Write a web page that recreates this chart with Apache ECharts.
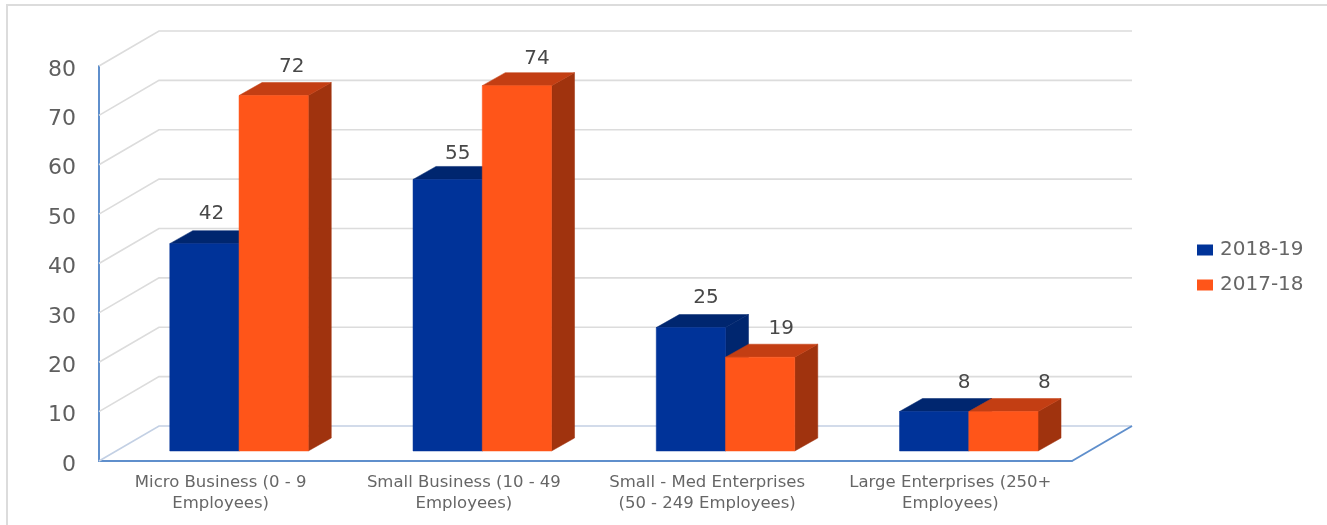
<!DOCTYPE html>
<html><head><meta charset="utf-8">
<style>html,body{margin:0;padding:0;background:#fff}#c{width:1327px;height:525px}</style>
<script src="https://cdn.jsdelivr.net/npm/echarts@6/dist/echarts.min.js"></script>
</head><body><div id="c"></div>
<script>
var categories = ['Micro Business (0 - 9\nEmployees)','Small Business (10 - 49\nEmployees)','Small - Med Enterprises\n(50 - 249 Employees)','Large Enterprises (250+\nEmployees)'];
var values2018 = [42,55,25,8];
var values2017 = [72,74,19,8];
var yTicks = [0,10,20,30,40,50,60,70,80];
var nudge2018 = [[7,0],[10,4],[15,0],[30,1]];
var nudge2017 = [[18,1],[20,3],[21,2],[41,1]];
var WALL = [60,-35], BARDEPTH = [23,-13], BAROFF = [18.4,-10], BARW = 0.2847;
var FONT = 'DejaVu Sans';

function poly(points, fill){
  return {type:'polygon', shape:{points:points}, style:{fill:fill, stroke:fill, lineWidth:0.5}};
}
function barRender(side, front, topc, sidec, nudges){
  return function(params, api){
    var i = api.value(0), v = api.value(1);
    var c = api.coord([i,v]), b = api.coord([i,0]);
    var w = api.size([1,0])[0]*BARW;
    var x0 = c[0]+BAROFF[0]+(side===0?-w:0), x1 = x0+w;
    var yt = c[1]+BAROFF[1], yb = b[1]+BAROFF[1];
    var dx = BARDEPTH[0], dy = BARDEPTH[1];
    return {type:'group', children:[
      poly([[x1,yb],[x1+dx,yb+dy],[x1+dx,yt+dy],[x1,yt]], sidec),
      poly([[x0,yt],[x1,yt],[x1+dx,yt+dy],[x0+dx,yt+dy]], topc),
      poly([[x0,yt],[x1,yt],[x1,yb],[x0,yb]], front),
      {type:'text', style:{text:String(v), x:(x0+x1)/2+nudges[i][0], y:yt-30+nudges[i][1], align:'center', verticalAlign:'middle',
        fill:'#484848', font:'20px "DejaVu Sans"'}, z2:50}
    ]};
  };
}
function wallRender(params, api){
  var v = api.value(0), p = api.coord([0,v]), cs = params.coordSys;
  var right = cs.x+cs.width+WALL[0];
  var col = v===0 ? '#c3d0e4' : '#dcdcdc';
  return {type:'polyline', shape:{points:[[cs.x,p[1]],[cs.x+WALL[0],p[1]+WALL[1]],[right,p[1]+WALL[1]]]},
    style:{stroke:col, lineWidth:1.7, fill:null}};
}
function floorEdge(params, api){
  var cs = params.coordSys, r = cs.x+cs.width, y = cs.y+cs.height;
  return {type:'line', shape:{x1:r,y1:y,x2:r+WALL[0],y2:y+WALL[1]}, style:{stroke:'#5f8fcc', lineWidth:2}};
}
var chart = echarts.init(document.getElementById('c'));
chart.setOption({
  animation:false,
  backgroundColor:'#fff',
  grid:{left:99,right:255,top:66,bottom:64,containLabel:false},
  legend:{orient:'vertical', left:1192, top:235, itemWidth:16, itemHeight:11, itemGap:15,
    icon:'rect', textStyle:{fontFamily:FONT, fontSize:20, color:'#666666', padding:[0,0,0,2]},
    data:['2018-19','2017-18']},
  xAxis:{type:'category', data:categories, boundaryGap:true,
    axisTick:{show:false}, axisLine:{lineStyle:{color:'#5f8fcc',width:2}},
    axisLabel:{interval:0, fontFamily:FONT, fontSize:16.5, color:'#666666', lineHeight:21, margin:11}},
  yAxis:{type:'value', min:0, max:80, interval:10, splitLine:{show:false},
    axisTick:{show:false}, axisLine:{show:true, lineStyle:{color:'#5f8fcc',width:2}},
    axisLabel:{margin:23, formatter:'{a|{value}}',
      rich:{a:{fontFamily:FONT, fontSize:22, color:'#5f5f5f', padding:[8,0,0,0]}}}},
  graphic:[{type:'polyline', shape:{points:[[7,525],[7,5],[1327,5]]}, style:{stroke:'#dcdcdc',lineWidth:2,fill:null}, silent:true}],
  series:[
    {type:'custom', name:'walls', data:yTicks.map(function(v){return [v];}), renderItem:wallRender, encode:{y:0}, silent:true, z:1},
    {type:'custom', name:'edge', data:[[0]], renderItem:floorEdge, silent:true, z:1},
    {type:'custom', name:'2018-19', data:values2018.map(function(v,i){return [i,v];}), encode:{x:0,y:1},
      itemStyle:{color:'#003399'}, renderItem:barRender(0,'#003399','#00266f','#00266f',nudge2018), z:2},
    {type:'custom', name:'2017-18', data:values2017.map(function(v,i){return [i,v];}), encode:{x:0,y:1},
      itemStyle:{color:'#FF5519'}, renderItem:barRender(1,'#FF5519','#C33E13','#A0330E',nudge2017), z:3}
  ]
});
</script></body></html>
